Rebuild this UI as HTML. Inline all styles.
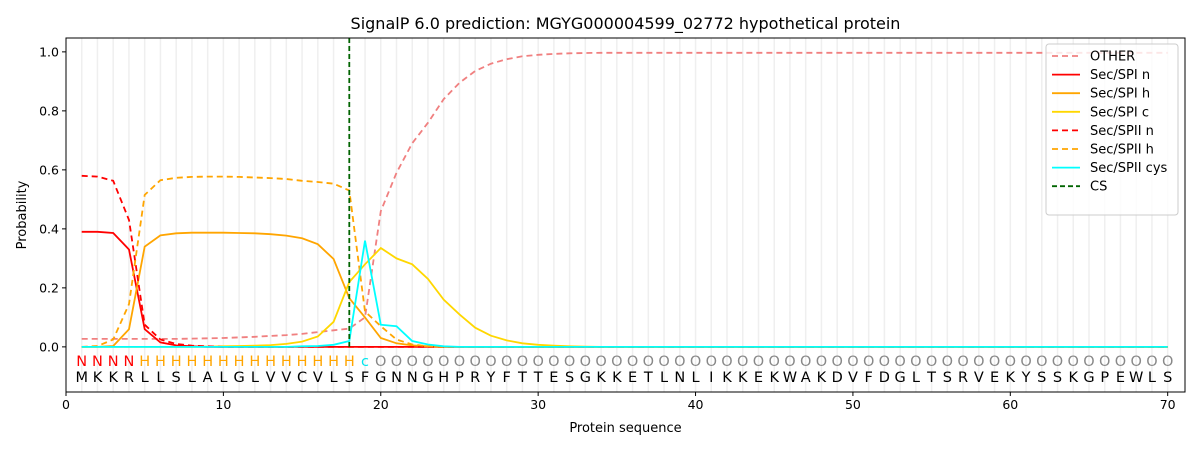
<!DOCTYPE html>
<html><head><meta charset="utf-8"><style>
body{margin:0;background:#fff;font-family:"Liberation Sans","DejaVu Sans",sans-serif}
svg text{font-family:"DejaVu Sans","Liberation Sans",sans-serif}
</style></head><body>
<svg id="chart" width="1200" height="450" viewBox="0 0 1200 450" xmlns="http://www.w3.org/2000/svg"></svg>
<script>
const positions = Array.from({length:70},(_,i)=>i+1);
const sequence = "MKKRLLSLALGLVVCVLSFGNNGHPRYFTTESGKKETLNLIKKEKWAKDVFDGLTSRVEKYSSKGPEWLS";
const predLabels = "NNNNHHHHHHHHHHHHHHcOOOOOOOOOOOOOOOOOOOOOOOOOOOOOOOOOOOOOOOOOOOOOOOOOOO";
const xTicks = [0,10,20,30,40,50,60,70];
const yTicks = [0,0.2,0.4,0.6,0.8,1.0];
const csPos = 18;
const other = [.027,.027,.027,.027,.027,.027,.027,.028,.029,.03,.032,.034,.037,.04,.044,.05,.056,.062,.1,.46,.59,.69,.76,.84,.895,.935,.96,.975,.985,.99,.993,.995,.996,.997,.997,.997,.997,.997,.997,.997,.997,.997,.997,.997,.997,.997,.997,.997,.997,.997,.997,.997,.997,.997,.997,.997,.997,.997,.997,.997,.997,.997,.997,.997,.997,.997,.997,.997,.997,.997];
const spiN = [.39,.39,.386,.33,.06,.015,.005,.002].concat(Array(62).fill(0));
const spiH = [0,0,.003,.06,.34,.378,.385,.387,.387,.387,.386,.385,.382,.377,.368,.348,.298,.165,.1,.03,.012,.005,.002].concat(Array(47).fill(0));
const spiC = [0,0,0,0,0,0,0,0,.001,.002,.003,.004,.006,.01,.018,.035,.085,.22,.28,.335,.3,.28,.23,.16,.11,.065,.038,.022,.012,.007,.004,.002,.001].concat(Array(37).fill(0));
const spiiN = [.58,.577,.563,.43,.075,.025,.01,.004,.002].concat(Array(61).fill(0));
const spiiH = [0,.003,.025,.145,.515,.565,.573,.576,.577,.577,.576,.574,.572,.569,.563,.559,.553,.53,.12,.07,.025,.008,.002].concat(Array(47).fill(0));
const spiiCys = [0,0,0,0,0,0,0,0,0,0,0,0,0,0,.002,.003,.007,.02,.36,.075,.07,.02,.008,.002].concat(Array(46).fill(0));

const L=66,R=1185,T=38,B=392, xmin=0,xmax=71.1, ymin=-0.153,ymax=1.047;
const X=v=>L+(v-xmin)/(xmax-xmin)*(R-L);
const Y=v=>B-(v-ymin)/(ymax-ymin)*(B-T);
const svg=document.getElementById('chart');
const NS="http://www.w3.org/2000/svg";
function mk(tag,attrs,name,parent){const e=document.createElementNS(NS,tag);for(const k in attrs)e.setAttribute(k,attrs[k]);


(parent||svg).appendChild(e);return e;}
function txt(x,y,s,name,opt){const t=mk('text',Object.assign({x:x,y:y,'font-size':13,fill:'#000','text-anchor':'middle'},opt||{}),name);t.textContent=s;return t;}

positions.forEach(p=>mk('line',{x1:X(p),x2:X(p),y1:T,y2:B,stroke:'#efefef','stroke-width':1.5},'grid-line'));
const predColor={N:'#ff0000',H:'#ffa500',c:'#00e5ee',O:'#888'};
positions.forEach((p,i)=>{
  txt(X(p),366,predLabels[i],'region-label',{fill:predColor[predLabels[i]],'font-size':14.5});
  txt(X(p),382,sequence[i],'amino-acid-label',{'font-size':14.5});
});
const series=[
 [other,'#f08080','6,4','other-line'],
 [spiN,'#ff0000','','sec-spi-n-line'],
 [spiH,'#ffa500','','sec-spi-h-line'],
 [spiC,'#ffd700','','sec-spi-c-line'],
 [spiiN,'#ff0000','6,4','sec-spii-n-line'],
 [spiiH,'#ffa500','6,4','sec-spii-h-line'],
 [spiiCys,'#00ffff','','sec-spii-cys-line']];
series.forEach(([d,c,da,n])=>{
  const pts=d.map((v,i)=>X(positions[i]).toFixed(1)+','+Y(v).toFixed(1)).join(' ');
  const a={points:pts,fill:'none',stroke:c,'stroke-width':1.8};if(da)a['stroke-dasharray']=da;
  mk('polyline',a,n);
});
mk('line',{x1:X(csPos),x2:X(csPos),y1:T,y2:Y(0),stroke:'#006400','stroke-width':1.8,'stroke-dasharray':'5,3'},'cs-line');
mk('rect',{x:L,y:T,width:R-L,height:B-T,fill:'none',stroke:'#000','stroke-width':1},'plot-frame');
xTicks.forEach(v=>{mk('line',{x1:X(v),x2:X(v),y1:B,y2:B+4,stroke:'#000'},'x-tick');txt(X(v),B+17,String(v),'x-tick-label',{'font-size':12.5});});
yTicks.forEach(v=>{mk('line',{x1:L-4,x2:L,y1:Y(v),y2:Y(v),stroke:'#000'},'y-tick');txt(L-7,Y(v)+4.5,v.toFixed(1),'y-tick-label',{'font-size':12.5,'text-anchor':'end'});});
txt((L+R)/2,432,'Protein sequence','x-axis-title',{'font-size':13});
txt(26,215,'Probability','y-axis-title',{'font-size':13,transform:'rotate(-90 26 215)'});
txt((L+R)/2,29,'SignalP 6.0 prediction: MGYG000004599_02772 hypothetical protein','chart-title',{'font-size':16});
const lg=mk('g',{},'legend');
mk('rect',{x:1046,y:44,width:132,height:171,rx:3,fill:'#fff','fill-opacity':0.8,stroke:'#ccc'},'legend-box',lg);
const entries=[['OTHER','#f08080','6,4'],['Sec/SPI n','#ff0000',''],['Sec/SPI h','#ffa500',''],['Sec/SPI c','#ffd700',''],['Sec/SPII n','#ff0000','6,4'],['Sec/SPII h','#ffa500','6,4'],['Sec/SPII cys','#00ffff',''],['CS','#006400','5,3']];
entries.forEach((e,i)=>{const y=56+i*18.6;
  const a={x1:1052,x2:1080,y1:y,y2:y,stroke:e[1],'stroke-width':1.8};if(e[2])a['stroke-dasharray']=e[2];
  mk('line',a,'legend-swatch',lg);
  const t=mk('text',{x:1090,y:y+4.5,'font-size':13,fill:'#000'},'legend-entry',lg);t.textContent=e[0];
});
</script>
</body></html>
